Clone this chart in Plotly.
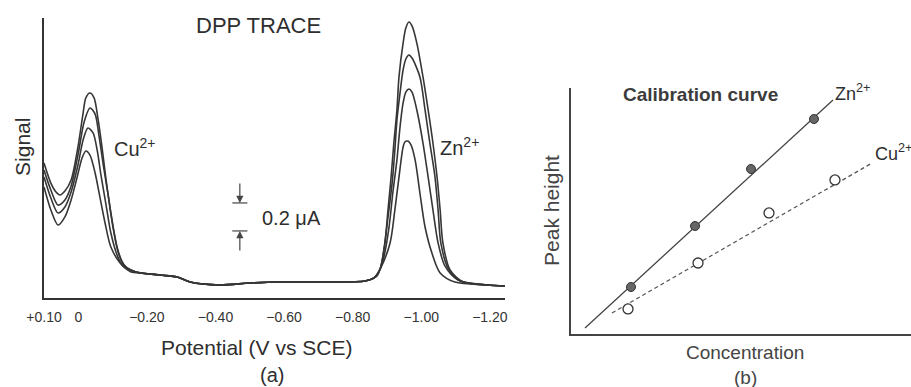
import plotly.graph_objects as go

# ---------------- Panel (a): DPP traces (potential in V, signal in uA) ----------------
baseline_v = [-0.238, -0.288, -0.326, -0.413, -0.501, -0.597, -0.725, -0.836, -0.862]
baseline_i = [0.164, 0.150, 0.114, 0.093, 0.107, 0.114, 0.114, 0.121, 0.143]

trace4_cu_v = [0.100, 0.080, 0.065, 0.053, 0.039, 0.021, 0.001, -0.014, -0.022, -0.034,
               -0.046, -0.057, -0.069, -0.081, -0.095, -0.113, -0.127, -0.139, -0.168]
trace4_cu_i = [0.964, 0.821, 0.757, 0.736, 0.764, 0.843, 1.079, 1.321, 1.429, 1.464,
               1.429, 1.286, 1.079, 0.843, 0.607, 0.364, 0.264, 0.221, 0.186]
trace4_zn_v = [-0.871, -0.880, -0.894, -0.903, -0.912, -0.920, -0.929, -0.935, -0.947, -0.955,
               -0.964, -0.973, -0.987, -1.005, -1.020, -1.034, -1.046, -1.055, -1.063, -1.084,
               -1.122, -1.192, -1.244]
trace4_zn_i = [0.157, 0.207, 0.393, 0.629, 0.864, 1.107, 1.343, 1.579, 1.821, 1.929,
               1.971, 1.943, 1.821, 1.579, 1.343, 1.107, 0.864, 0.629, 0.393, 0.200,
               0.114, 0.093, 0.086]

trace3_cu_v = [0.100, 0.080, 0.059, 0.039, 0.021, 0.001, -0.017, -0.034, -0.049, -0.060,
               -0.072, -0.087, -0.101, -0.116, -0.133, -0.168]
trace3_cu_i = [0.914, 0.771, 0.664, 0.700, 0.800, 1.021, 1.257, 1.357, 1.314, 1.164,
               0.964, 0.736, 0.507, 0.329, 0.236, 0.186]
trace3_zn_v = [-0.880, -0.891, -0.903, -0.915, -0.923, -0.929, -0.938, -0.947, -0.955, -0.964,
               -0.973, -0.996, -1.011, -1.025, -1.040, -1.049, -1.057, -1.078, -1.113, -1.192,
               -1.244]
trace3_zn_i = [0.207, 0.343, 0.579, 0.821, 1.057, 1.271, 1.464, 1.629, 1.707, 1.736,
               1.714, 1.579, 1.343, 1.107, 0.864, 0.629, 0.393, 0.214, 0.121, 0.093,
               0.086]

trace2_cu_v = [0.100, 0.080, 0.059, 0.039, 0.021, 0.001, -0.014, -0.028, -0.043, -0.055,
               -0.066, -0.081, -0.095, -0.113, -0.130, -0.168]
trace2_cu_i = [0.864, 0.714, 0.607, 0.650, 0.757, 0.950, 1.129, 1.214, 1.179, 1.057,
               0.879, 0.664, 0.464, 0.307, 0.229, 0.186]
trace2_zn_v = [-0.880, -0.891, -0.906, -0.917, -0.929, -0.938, -0.947, -0.955, -0.964, -0.973,
               -0.987, -1.005, -1.020, -1.034, -1.049, -1.069, -1.107, -1.192, -1.244]
trace2_zn_i = [0.207, 0.293, 0.507, 0.750, 0.986, 1.221, 1.393, 1.471, 1.493, 1.471,
               1.343, 1.107, 0.864, 0.629, 0.393, 0.229, 0.129, 0.093, 0.086]

trace1_cu_v = [0.100, 0.080, 0.059, 0.039, 0.021, 0.004, -0.011, -0.022, -0.034, -0.049,
               -0.063, -0.078, -0.095, -0.122, -0.154, -0.180]
trace1_cu_i = [0.793, 0.629, 0.521, 0.579, 0.700, 0.857, 1.000, 1.050, 1.021, 0.893,
               0.721, 0.536, 0.364, 0.250, 0.186, 0.179]
trace1_zn_v = [-0.880, -0.909, -0.923, -0.935, -0.947, -0.952, -0.961, -0.970, -0.982, -0.996,
               -1.011, -1.031, -1.055, -1.098, -1.192, -1.244]
trace1_zn_i = [0.207, 0.393, 0.629, 0.864, 1.079, 1.114, 1.121, 1.093, 0.986, 0.750,
               0.507, 0.321, 0.179, 0.114, 0.093, 0.086]

potential_ticks = [0.10, 0.0, -0.20, -0.40, -0.60, -0.80, -1.00, -1.20]
potential_labels = ["+0.10", "0", "\u22120.20", "\u22120.40", "\u22120.60",
                    "\u22120.80", "\u22121.00", "\u22121.20"]

# scale bar (0.2 uA)
scale_v = -0.471
scale_lo = 0.479
scale_hi = 0.679
scale_arrow_len = 0.15
scale_half_w = 0.022

# ---------------- Panel (b): calibration curve (arbitrary units) ----------------
zn_conc = [1.00, 2.067, 3.00, 4.05]
zn_peak = [0.783, 1.80, 2.75, 3.583]
zn_fit_x = [0.233, 4.367]
zn_fit_y = [0.10, 3.90]

cu_conc = [0.95, 2.117, 3.30, 4.40]
cu_peak = [0.417, 1.183, 2.017, 2.567]
cu_fit_x = [0.683, 5.017]
cu_fit_y = [0.35, 2.85]

FONT = "Liberation Sans, Arial, sans-serif"
INK = "#2e2e2e"

fig = go.Figure()

traces = [
    (trace1_cu_v, trace1_cu_i, trace1_zn_v, trace1_zn_i),
    (trace2_cu_v, trace2_cu_i, trace2_zn_v, trace2_zn_i),
    (trace3_cu_v, trace3_cu_i, trace3_zn_v, trace3_zn_i),
    (trace4_cu_v, trace4_cu_i, trace4_zn_v, trace4_zn_i),
]
for cu_v, cu_i, zn_v, zn_i in traces:
    xs = cu_v + baseline_v + zn_v
    ys = cu_i + baseline_i + zn_i
    fig.add_trace(go.Scatter(
        x=xs, y=ys, mode="lines", xaxis="x", yaxis="y",
        line=dict(color="#363636", width=1.6, shape="spline", smoothing=0.8),
        showlegend=False, hoverinfo="skip"))

# scale bar horizontal bars
for yv in (scale_lo, scale_hi):
    fig.add_trace(go.Scatter(
        x=[scale_v + scale_half_w, scale_v - scale_half_w], y=[yv, yv],
        mode="lines", xaxis="x", yaxis="y",
        line=dict(color="#444", width=1.2), showlegend=False, hoverinfo="skip"))

# calibration lines
fig.add_trace(go.Scatter(x=zn_fit_x, y=zn_fit_y, mode="lines", xaxis="x2", yaxis="y2",
                         line=dict(color="#444", width=1.3), showlegend=False))
fig.add_trace(go.Scatter(x=cu_fit_x, y=cu_fit_y, mode="lines", xaxis="x2", yaxis="y2",
                         line=dict(color="#555", width=1.3, dash="4px,3px"), showlegend=False))
fig.add_trace(go.Scatter(x=zn_conc, y=zn_peak, mode="markers", xaxis="x2", yaxis="y2",
                         marker=dict(size=9, color="#666", line=dict(color="#333", width=1)),
                         showlegend=False))
fig.add_trace(go.Scatter(x=cu_conc, y=cu_peak, mode="markers", xaxis="x2", yaxis="y2",
                         marker=dict(size=10, color="white", line=dict(color="#333", width=1.3)),
                         showlegend=False))

def txt(x, y, s, size, xanchor="center", angle=0, bold=False, color=INK):
    if bold:
        s = "<b>" + s + "</b>"
    fig.add_annotation(x=x, y=y, xref="paper", yref="paper", text=s, showarrow=False,
                       xanchor=xanchor, yanchor="middle", textangle=angle,
                       font=dict(family=FONT, size=size, color=color))

txt(0.2843, 0.9354, "DPP TRACE", 22)
txt(0.0252, 0.6202, "Signal", 21, angle=-90)
txt(0.1229, 0.6176, "Cu<sup>2+</sup>", 20, xanchor="left")
txt(0.2854, 0.4367, "0.2 \u03bcA", 20, xanchor="left")
txt(0.4808, 0.6202, "Zn<sup>2+</sup>", 20, xanchor="left")
txt(0.2821, 0.1008, "Potential (V vs SCE)", 21)
txt(0.2986, 0.031, "(a)", 20)

txt(0.7684, 0.7571, "Calibration curve", 19, bold=True, color="#3c3c3c")
txt(0.9144, 0.7597, "Zn<sup>2+</sup>", 18, xanchor="left")
txt(0.9583, 0.6072, "Cu<sup>2+</sup>", 18, xanchor="left")
txt(0.6059, 0.4574, "Peak height", 21, angle=-90, color="#444")
txt(0.8178, 0.0904, "Concentration", 19, color="#444")
txt(0.8178, 0.0258, "(b)", 19, color="#444")

# scale bar arrows
fig.add_annotation(x=scale_v, y=scale_hi, ax=scale_v, ay=scale_hi + scale_arrow_len,
                   xref="x", yref="y", axref="x", ayref="y", text="", showarrow=True,
                   arrowhead=2, arrowsize=1.2, arrowwidth=1.2, arrowcolor="#444")
fig.add_annotation(x=scale_v, y=scale_lo, ax=scale_v, ay=scale_lo - scale_arrow_len,
                   xref="x", yref="y", axref="x", ayref="y", text="", showarrow=True,
                   arrowhead=2, arrowsize=1.2, arrowwidth=1.2, arrowcolor="#444")

fig.update_layout(
    width=911, height=387, autosize=False,
    margin=dict(l=0, r=0, t=0, b=0, autoexpand=False),
    paper_bgcolor="white", plot_bgcolor="white",
    font=dict(family=FONT, color=INK),
    xaxis=dict(domain=[0.0483, 0.5543], range=[0.10, -1.244], tickvals=potential_ticks,
               ticktext=potential_labels, ticks="outside", ticklen=5,
               tickcolor="rgba(0,0,0,0)", tickfont=dict(size=14, color="#333", family=FONT),
               showgrid=False, zeroline=False, showline=True, linecolor="#333", linewidth=2,
               automargin=False),
    yaxis=dict(domain=[0.23, 0.9535], range=[0, 2.0], showticklabels=False, ticks="",
               showgrid=False, zeroline=False, showline=True, linecolor="#333", linewidth=2,
               automargin=False),
    xaxis2=dict(domain=[0.6268, 1.0], range=[0, 5.667], anchor="y2", showticklabels=False,
                ticks="", showgrid=False, zeroline=False, showline=True,
                linecolor="#444", linewidth=1.5, automargin=False),
    yaxis2=dict(domain=[0.137, 0.7726], range=[0, 4.1], anchor="x2", showticklabels=False,
                ticks="", showgrid=False, zeroline=False, showline=True,
                linecolor="#444", linewidth=1.5, automargin=False),
)

fig.write_html(
    "out.html",
    config={"displayModeBar": False},
    post_script="document.body.style.margin='0';document.body.style.overflow='hidden';",
)
